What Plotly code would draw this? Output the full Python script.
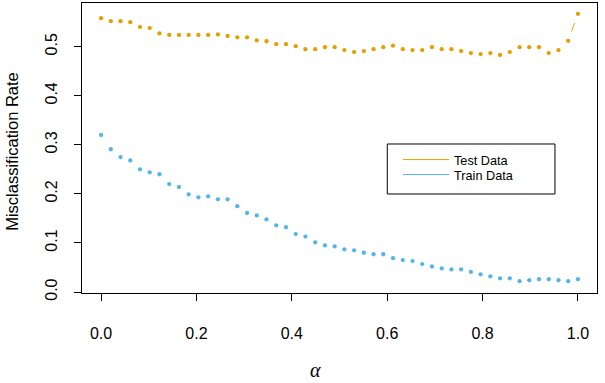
import plotly.graph_objects as go

alpha = [0.0, 0.0204, 0.0408, 0.0612, 0.0816, 0.1020, 0.1224, 0.1429, 0.1633, 0.1837,
         0.2041, 0.2245, 0.2449, 0.2653, 0.2857, 0.3061, 0.3265, 0.3469, 0.3673, 0.3878,
         0.4082, 0.4286, 0.4490, 0.4694, 0.4898, 0.5102, 0.5306, 0.5510, 0.5714, 0.5918,
         0.6122, 0.6327, 0.6531, 0.6735, 0.6939, 0.7143, 0.7347, 0.7551, 0.7755, 0.7959,
         0.8163, 0.8367, 0.8571, 0.8776, 0.8980, 0.9184, 0.9388, 0.9592, 0.9796, 1.0]

test_err = [0.558, 0.552, 0.552, 0.550, 0.540, 0.538, 0.527, 0.524, 0.524, 0.524,
            0.524, 0.524, 0.525, 0.522, 0.519, 0.519, 0.513, 0.511, 0.505, 0.505,
            0.501, 0.495, 0.495, 0.499, 0.499, 0.493, 0.489, 0.491, 0.495, 0.499,
            0.502, 0.495, 0.493, 0.493, 0.499, 0.495, 0.495, 0.491, 0.487, 0.485,
            0.487, 0.483, 0.489, 0.499, 0.499, 0.499, 0.487, 0.493, 0.512, 0.567]

train_err = [0.320, 0.291, 0.275, 0.268, 0.250, 0.244, 0.240, 0.220, 0.214, 0.199,
             0.193, 0.195, 0.189, 0.189, 0.175, 0.161, 0.156, 0.148, 0.136, 0.132,
             0.118, 0.113, 0.101, 0.095, 0.093, 0.087, 0.085, 0.080, 0.077, 0.077,
             0.069, 0.065, 0.063, 0.057, 0.052, 0.048, 0.046, 0.046, 0.041, 0.036,
             0.032, 0.028, 0.028, 0.022, 0.024, 0.026, 0.026, 0.024, 0.022, 0.026]

series_names = ["Test Data", "Train Data"]
x_ticks = [0.0, 0.2, 0.4, 0.6, 0.8, 1.0]
y_ticks = [0.0, 0.1, 0.2, 0.3, 0.4, 0.5]

ORANGE = "#E69F00"
BLUE = "#56B4E9"
FONT = "Liberation Sans, Arial, Helvetica, sans-serif"

fig = go.Figure()

for name, ys, col, lg in [(series_names[0], test_err, ORANGE, "legend"),
                          (series_names[1], train_err, BLUE, "legend2")]:
    # connecting line (R type="b")
    fig.add_trace(go.Scatter(x=alpha, y=ys, mode="lines", name=name, legend=lg,
                             line=dict(color=col, width=1), showlegend=True))
for ys in [test_err, train_err]:
    # gaps around points, like R type="b"
    fig.add_trace(go.Scatter(x=alpha, y=ys, mode="markers", showlegend=False,
                             hoverinfo="skip",
                             marker=dict(color="white", size=20, line=dict(width=0))))
for ys, col in [(test_err, ORANGE), (train_err, BLUE)]:
    fig.add_trace(go.Scatter(x=alpha, y=ys, mode="markers", showlegend=False,
                             marker=dict(color=col, size=4.3, line=dict(width=0))))

axis_common = dict(showgrid=False, zeroline=False, showline=True, mirror=True,
                   linecolor="black", linewidth=1, ticks="outside", ticklen=7,
                   tickcolor="black", tickwidth=1, automargin=False,
                   tickfont=dict(family=FONT, size=16, color="black"))

fig.update_xaxes(range=[-0.04, 1.04], tickvals=x_ticks,
                 ticktext=[f"{v:.1f}" for v in x_ticks], ticklabelstandoff=19,
                 **axis_common)
fig.update_yaxes(range=[-0.002, 0.589], tickvals=y_ticks,
                 ticktext=[f"{v:.1f}" for v in y_ticks], tickangle=-90,
                 ticklabelstandoff=11, **axis_common)

fig.add_annotation(text="Misclassification Rate", xref="paper", yref="paper",
                   x=-0.136, y=0.49, textangle=-90, showarrow=False,
                   xanchor="center", yanchor="middle",
                   font=dict(family=FONT, size=16.5, color="black"))
fig.add_annotation(text="<i>α</i>", xref="paper", yref="paper",
                   x=0.454, y=-0.267, showarrow=False,
                   xanchor="center", yanchor="middle",
                   font=dict(family="Liberation Serif, Times New Roman, serif", size=20, color="black"))

# legend frame (R-style box around the legend)
fig.add_shape(type="rect", xref="paper", yref="paper",
              x0=0.5928, x1=0.9184, y0=0.3414, y1=0.5138,
              line=dict(color="black", width=1), fillcolor="white", layer="above")

legend_common = dict(xanchor="left", yanchor="top", borderwidth=0,
                     bgcolor="rgba(0,0,0,0)",
                     font=dict(family=FONT, size=12.7, color="black"),
                     itemwidth=46, tracegroupgap=0)

fig.update_layout(
    width=605, height=383,
    margin=dict(l=82, r=8, t=3, b=90, pad=0),
    paper_bgcolor="white", plot_bgcolor="white",
    font=dict(family=FONT, color="black"),
    legend=dict(x=0.6136, y=0.511, **legend_common),
    legend2=dict(x=0.6136, y=0.4593, **legend_common),
)

fig.write_html("out.html", config={"displayModeBar": False},
               post_script="document.body.style.margin='0';document.body.style.padding='0';")
